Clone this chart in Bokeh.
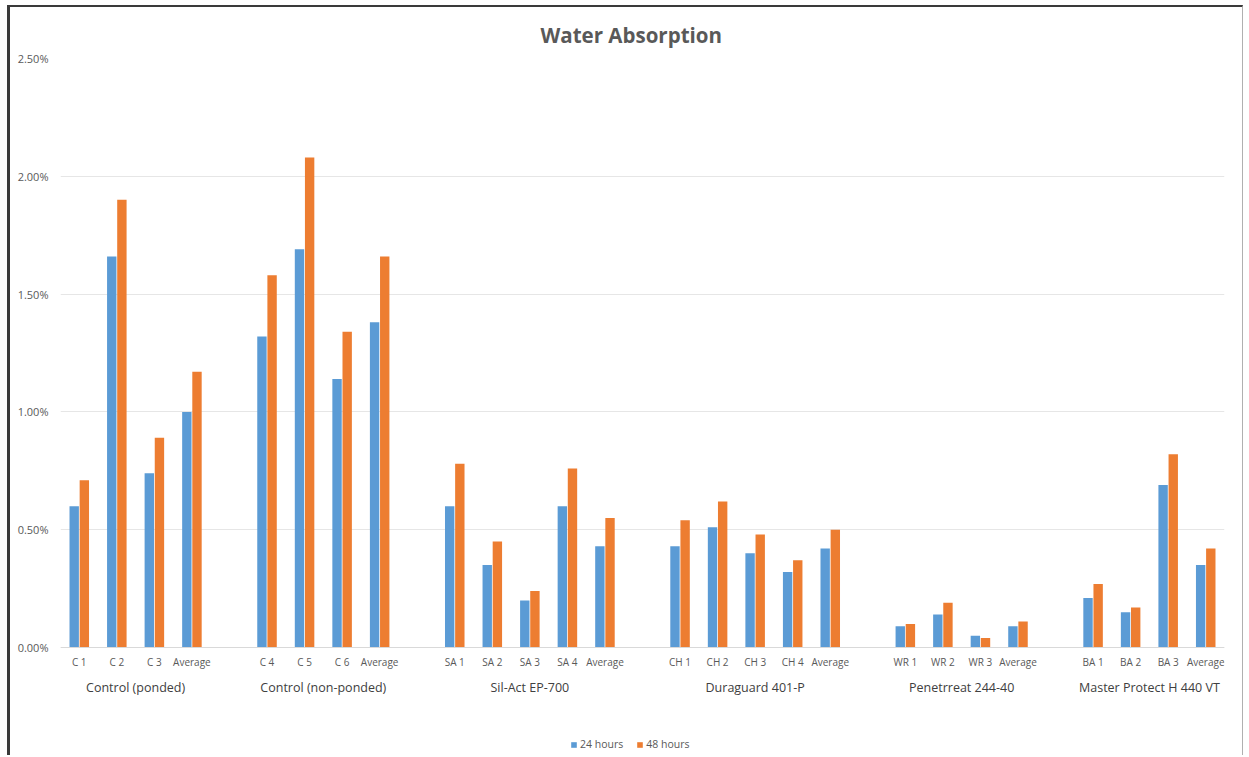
from bokeh.plotting import figure
from bokeh.models import (FactorRange, Range1d, ColumnDataSource, Legend, LegendItem,
                          PrintfTickFormatter, FixedTicker)
from bokeh.transform import dodge
from bokeh.embed import file_html
from bokeh.resources import INLINE

title_text = "Water Absorption"
groups = ["Control (ponded)", "Control (non-ponded)", "Sil-Act EP-700",
          "Duraguard 401-P", "Penetrreat 244-40", "Master Protect H 440 VT"]
samples = [["C 1", "C 2", "C 3", "Average"],
           ["C 4", "C 5", "C 6", "Average"],
           ["SA 1", "SA 2", "SA 3", "SA 4", "Average"],
           ["CH 1", "CH 2", "CH 3", "CH 4", "Average"],
           ["WR 1", "WR 2", "WR 3", "Average"],
           ["BA 1", "BA 2", "BA 3", "Average"]]
# water absorption in percent
h24 = [0.60, 1.66, 0.74, 1.00,
       1.32, 1.69, 1.14, 1.38,
       0.60, 0.35, 0.20, 0.60, 0.43,
       0.43, 0.51, 0.40, 0.32, 0.42,
       0.09, 0.14, 0.05, 0.09,
       0.21, 0.15, 0.69, 0.35]
h48 = [0.71, 1.90, 0.89, 1.17,
       1.58, 2.08, 1.34, 1.66,
       0.78, 0.45, 0.24, 0.76, 0.55,
       0.54, 0.62, 0.48, 0.37, 0.50,
       0.10, 0.19, 0.04, 0.11,
       0.27, 0.17, 0.82, 0.42]
y_ticks = [0.0, 0.5, 1.0, 1.5, 2.0, 2.5]
series_names = ["24 hours", "48 hours"]

factors = [(g, s) for g, ss in zip(groups, samples) for s in ss]
src = ColumnDataSource(dict(x=factors, h24=h24, h48=h48))

FONT = "Open Sans"
BLUE = "#5B9BD5"
ORANGE = "#ED7D31"

# layout: the frame extends below zero to host the category labels and legend
Y_MAX = 2.5
VALUE_PX = 589          # pixels from 0 to Y_MAX
BELOW_PX = 106          # pixels of frame under the zero line
y_start = -Y_MAX * BELOW_PX / VALUE_PX

p = figure(width=1236, height=750, output_backend="svg", toolbar_location=None,
           x_range=FactorRange(*factors, range_padding=0, group_padding=1.0,
                               factor_padding=0),
           y_range=Range1d(y_start, Y_MAX),
           min_border_left=50, min_border_right=22, min_border_top=51,
           min_border_bottom=4)
p.styles = {"margin-left": "7px", "margin-top": "5px",
            "border-left": "3px solid #3a3a3a", "border-top": "2px solid #3a3a3a",
            "border-right": "1px solid #b0b0b0"}

p.title.text = title_text
p.title.align = "left"
p.title.offset = 480
p.title.text_font = FONT
p.title.text_font_size = "20.5px"
p.title.text_font_style = "bold"
p.title.text_color = "#595959"
p.title.standoff = 20

r1 = p.vbar(x=dodge("x", -0.135, range=p.x_range), top="h24", width=0.25,
            source=src, fill_color=BLUE, line_color=None)
r2 = p.vbar(x=dodge("x", 0.135, range=p.x_range), top="h48", width=0.25,
            source=src, fill_color=ORANGE, line_color=None)

p.outline_line_color = None
p.xgrid.grid_line_color = None
p.ygrid.grid_line_color = "#e6e6e6"
p.ygrid.ticker = FixedTicker(ticks=y_ticks)

xa = p.xaxis[0]
xa.fixed_location = 0
xa.axis_line_color = "#d9d9d9"
xa.major_tick_line_color = None
xa.major_tick_out = 0
xa.major_tick_in = 0
xa.minor_tick_line_color = None
xa.major_label_text_font = FONT
xa.major_label_text_font_size = "10px"
xa.major_label_text_color = "#595959"
xa.major_label_standoff = 7
xa.group_text_font = FONT
xa.group_text_font_size = "12.5px"
xa.group_text_font_style = "normal"
xa.group_text_color = "#404040"
xa.separator_line_alpha = 0

ya = p.yaxis[0]
ya.ticker = FixedTicker(ticks=y_ticks)
ya.formatter = PrintfTickFormatter(format="%.2f%%")
ya.axis_line_color = None
ya.major_tick_line_color = None
ya.minor_tick_line_color = None
ya.major_label_text_font = FONT
ya.major_label_text_font_size = "11px"
ya.major_label_text_color = "#595959"
ya.major_label_standoff = 6

legend = Legend(items=[LegendItem(label=series_names[0], renderers=[r1]),
                       LegendItem(label=series_names[1], renderers=[r2])],
                orientation="horizontal", location=(510, 2),
                label_text_font=FONT, label_text_font_size="10.5px",
                label_text_color="#595959", glyph_width=7, glyph_height=7,
                label_standoff=3, spacing=13, border_line_color=None,
                background_fill_alpha=0, margin=0, padding=0,
                label_height=10)
p.add_layout(legend)

open("out.html", "w").write(file_html(p, INLINE))
